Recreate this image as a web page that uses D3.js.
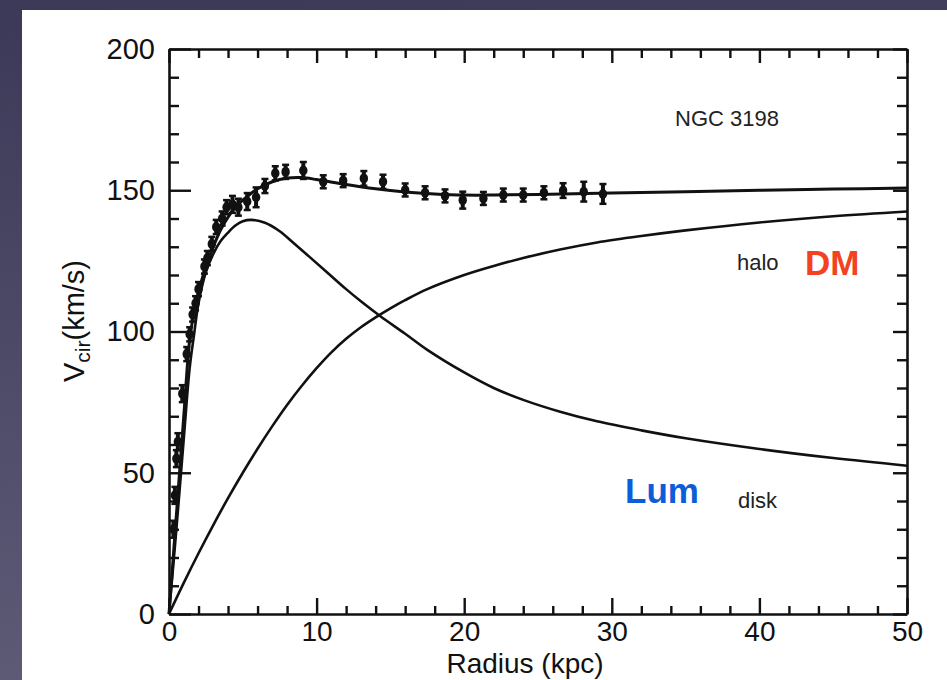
<!DOCTYPE html>
<html>
<head>
<meta charset="utf-8">
<script src="https://cdn.jsdelivr.net/npm/d3@7"></script>
<style>
  html, body { margin: 0; padding: 0; background: #45435f; }
  svg { display: block; }
  text { font-family: "Liberation Sans", Arial, Helvetica, sans-serif; }
</style>
</head>
<body>
<svg id="chart" width="947" height="680"></svg>
<script>
// ---------- data ----------
const radiusTicks = [0, 10, 20, 30, 40, 50];
const velocityTicks = [0, 50, 100, 150, 200];

// observed rotation curve of NGC 3198
const obsRadius   = [0.3, 0.4, 0.5, 0.6, 0.9, 1.2, 1.4, 1.6, 1.8, 2.0, 2.4, 2.6, 2.9, 3.2, 3.6, 3.9, 4.3, 4.7, 5.3, 5.9, 6.5, 7.2, 7.9, 9.1, 10.45, 11.8, 13.2, 14.5, 16.0, 17.35, 18.7, 19.9, 21.3, 22.65, 24.0, 25.4, 26.7, 28.1, 29.4];
const obsVelocity = [30, 42, 55, 61, 78, 92, 99, 106, 110, 115, 123, 126, 131, 137, 140, 144, 145, 144, 146, 147.5, 151.5, 156, 156.5, 157, 153, 153.4, 154.2, 153, 150.1, 149.1, 148, 146.5, 147.1, 148.3, 148.3, 149.1, 149.9, 149.5, 148.7];
const obsError    = [3, 3, 3, 3, 3, 2.5, 2.5, 2.5, 2.5, 2.5, 2.5, 2.5, 2.5, 2.5, 2.5, 2.5, 3, 3, 3, 3.5, 2.5, 2.5, 2.5, 3, 2.3, 2.3, 2.6, 2.5, 2.3, 2.3, 2.3, 3, 2.3, 2.3, 2.3, 2.3, 2.6, 3.5, 3.5];

// total fit
const fitRadius   = [0, 0.5, 1.0, 1.4, 1.7, 2.0, 2.5, 3.0, 3.5, 4.0, 4.5, 5.0, 6.0, 7.0, 8.0, 9.0, 10, 12, 14, 16, 18, 20, 22, 25, 30, 35, 40, 45, 50];
const fitVelocity = [0, 35, 70, 97, 107, 114, 123, 130, 136, 140.5, 144, 146.5, 150.5, 153, 154.3, 154.5, 153.8, 152, 150.5, 149.4, 148.7, 148.3, 148.3, 148.5, 149, 149.5, 150, 150.4, 150.8];

// disk component
const diskRadius   = [0, 0.5, 1.0, 1.4, 1.7, 2.0, 2.5, 3.0, 3.5, 4.0, 4.5, 5.0, 5.6, 6.5, 7.5, 8.4, 9.5, 10.7, 12, 13, 14.3, 16, 17.5, 20, 22, 24, 26.5, 29, 32, 35, 40, 45, 50];
const diskVelocity = [0, 30, 62, 87, 99, 110, 121, 127.5, 132, 135, 137.5, 139, 139.5, 138.5, 135.5, 131.5, 126.5, 121, 115, 110.7, 105.5, 99.2, 93.5, 85.5, 80, 75.8, 71.6, 68.2, 65, 62.2, 58.4, 55.2, 52.5];

// halo component
const haloRadius   = [0, 1, 2, 3, 4, 5, 6, 7, 8, 9, 10, 11, 12, 13, 14, 15, 16, 17.5, 20, 22, 24, 26.5, 29, 32, 35, 40, 45, 50];
const haloVelocity = [0, 11, 21.5, 31.5, 41, 50, 58.5, 66.5, 74, 80.8, 87, 92.6, 97.4, 101.5, 105, 108.2, 111.1, 115, 120, 123.2, 126, 129, 131.5, 133.8, 135.8, 138.6, 140.8, 142.5];

// ---------- drawing ----------
const W = 947, H = 680;
const svg = d3.select("#chart");
const FONT = "'Liberation Sans', Arial, Helvetica, sans-serif";

const defs = svg.append("defs");
const grad = defs.append("linearGradient").attr("id", "bg").attr("x1", 0).attr("y1", 0).attr("x2", 0.15).attr("y2", 1);
grad.append("stop").attr("offset", "0%").attr("stop-color", "#3b3957");
grad.append("stop").attr("offset", "100%").attr("stop-color", "#5d5b76");
svg.append("rect").attr("width", W).attr("height", H).attr("fill", "url(#bg)");
svg.append("rect").attr("x", 22).attr("y", 10).attr("width", W - 22).attr("height", H - 10).attr("fill", "#ffffff");

const x = d3.scaleLinear().domain([0, 50]).range([169, 907]);
const y = d3.scaleLinear().domain([0, 200]).range([614, 49]);

const ink = "#111";
const minorX = d3.range(0, 51, 2);
const minorY = d3.range(0, 201, 10);

function styleAxis(g, isMajor, majorLen, minorLen, attr, sign) {
  g.select(".domain").attr("stroke", ink).attr("stroke-width", 2.6);
  g.selectAll(".tick line")
    .attr("stroke", ink)
    .attr("stroke-width", 2.4)
    .attr(attr, d => sign * (isMajor(d) ? majorLen : minorLen));
}

// bottom axis
const gx = svg.append("g").attr("transform", `translate(0,${y(0)})`)
  .call(d3.axisBottom(x).tickValues(minorX).tickSizeInner(-8).tickSizeOuter(0).tickPadding(7)
    .tickFormat(d => radiusTicks.includes(d) ? d : ""));
styleAxis(gx, d => radiusTicks.includes(d), 16, 8, "y2", -1);
gx.selectAll(".tick text").attr("font-size", 28).attr("fill", ink).attr("font-family", FONT);

// top axis
const gt = svg.append("g").attr("transform", `translate(0,${y(200)})`)
  .call(d3.axisTop(x).tickValues(minorX).tickSizeInner(-8).tickSizeOuter(0).tickFormat(""));
styleAxis(gt, d => radiusTicks.includes(d), 14, 9, "y2", 1);

// left axis
const gy = svg.append("g").attr("transform", `translate(${x(0)},0)`)
  .call(d3.axisLeft(y).tickValues(minorY).tickSizeInner(-10).tickSizeOuter(0).tickPadding(14)
    .tickFormat(d => velocityTicks.includes(d) ? d : ""));
styleAxis(gy, d => velocityTicks.includes(d), 22, 10, "x2", 1);
gy.selectAll(".tick text").attr("font-size", 29).attr("fill", ink).attr("font-family", FONT);

// right axis
const gr = svg.append("g").attr("transform", `translate(${x(50)},0)`)
  .call(d3.axisRight(y).tickValues(minorY).tickSizeInner(-10).tickSizeOuter(0).tickFormat(""));
styleAxis(gr, d => velocityTicks.includes(d), 14, 10, "x2", -1);

// curves
const line = d3.line().x(d => x(d[0])).y(d => y(d[1])).curve(d3.curveCatmullRom.alpha(0.5));
const zip = (a, b) => a.map((v, i) => [v, b[i]]);

svg.append("path").datum(zip(haloRadius, haloVelocity)).attr("d", line)
  .attr("fill", "none").attr("stroke", ink).attr("stroke-width", 2.6);
svg.append("path").datum(zip(diskRadius, diskVelocity)).attr("d", line)
  .attr("fill", "none").attr("stroke", ink).attr("stroke-width", 2.6);
svg.append("path").datum(zip(fitRadius, fitVelocity)).attr("d", line)
  .attr("fill", "none").attr("stroke", ink).attr("stroke-width", 3);

// data points with error bars
const obs = obsRadius.map((r, i) => ({ r, v: obsVelocity[i], e: obsError[i] }));
const pts = svg.append("g");
pts.selectAll("line.bar").data(obs).join("line").attr("class", "bar")
  .attr("x1", d => x(d.r)).attr("x2", d => x(d.r))
  .attr("y1", d => y(d.v - d.e)).attr("y2", d => y(d.v + d.e))
  .attr("stroke", ink).attr("stroke-width", 4);
pts.selectAll("line.capTop").data(obs).join("line").attr("class", "capTop")
  .attr("x1", d => x(d.r) - 3.5).attr("x2", d => x(d.r) + 3.5)
  .attr("y1", d => y(d.v + d.e)).attr("y2", d => y(d.v + d.e))
  .attr("stroke", ink).attr("stroke-width", 2.5);
pts.selectAll("line.capBot").data(obs).join("line").attr("class", "capBot")
  .attr("x1", d => x(d.r) - 3.5).attr("x2", d => x(d.r) + 3.5)
  .attr("y1", d => y(d.v - d.e)).attr("y2", d => y(d.v - d.e))
  .attr("stroke", ink).attr("stroke-width", 2.5);
pts.selectAll("ellipse").data(obs).join("ellipse")
  .attr("cx", d => x(d.r)).attr("cy", d => y(d.v)).attr("rx", 4.2).attr("ry", 5).attr("fill", ink);

// axis titles
svg.append("text").attr("x", 525).attr("y", 673).attr("text-anchor", "middle")
  .attr("font-size", 28).attr("fill", ink).text("Radius (kpc)");

const yt = svg.append("text").attr("transform", "translate(84,321) rotate(-90)")
  .attr("text-anchor", "middle").attr("font-size", 29).attr("fill", ink);
yt.append("tspan").text("V");
yt.append("tspan").attr("dy", 6).attr("font-size", 21).text("cir");
yt.append("tspan").attr("dy", -6).text("(km/s)");

// annotations
svg.append("text").attr("x", 675).attr("y", 126).attr("font-size", 22).attr("fill", "#222").text("NGC 3198");
svg.append("text").attr("x", 737).attr("y", 270).attr("font-size", 22).attr("fill", "#222").text("halo");
svg.append("text").attr("x", 738).attr("y", 508).attr("font-size", 22).attr("fill", "#222").text("disk");
svg.append("text").attr("x", 805).attr("y", 275).attr("font-size", 35).attr("font-weight", "bold")
  .attr("fill", "#f2421e").text("DM");
svg.append("text").attr("x", 625).attr("y", 503).attr("font-size", 35).attr("font-weight", "bold")
  .attr("fill", "#0d5cd8").text("Lum");
</script>
</body>
</html>
